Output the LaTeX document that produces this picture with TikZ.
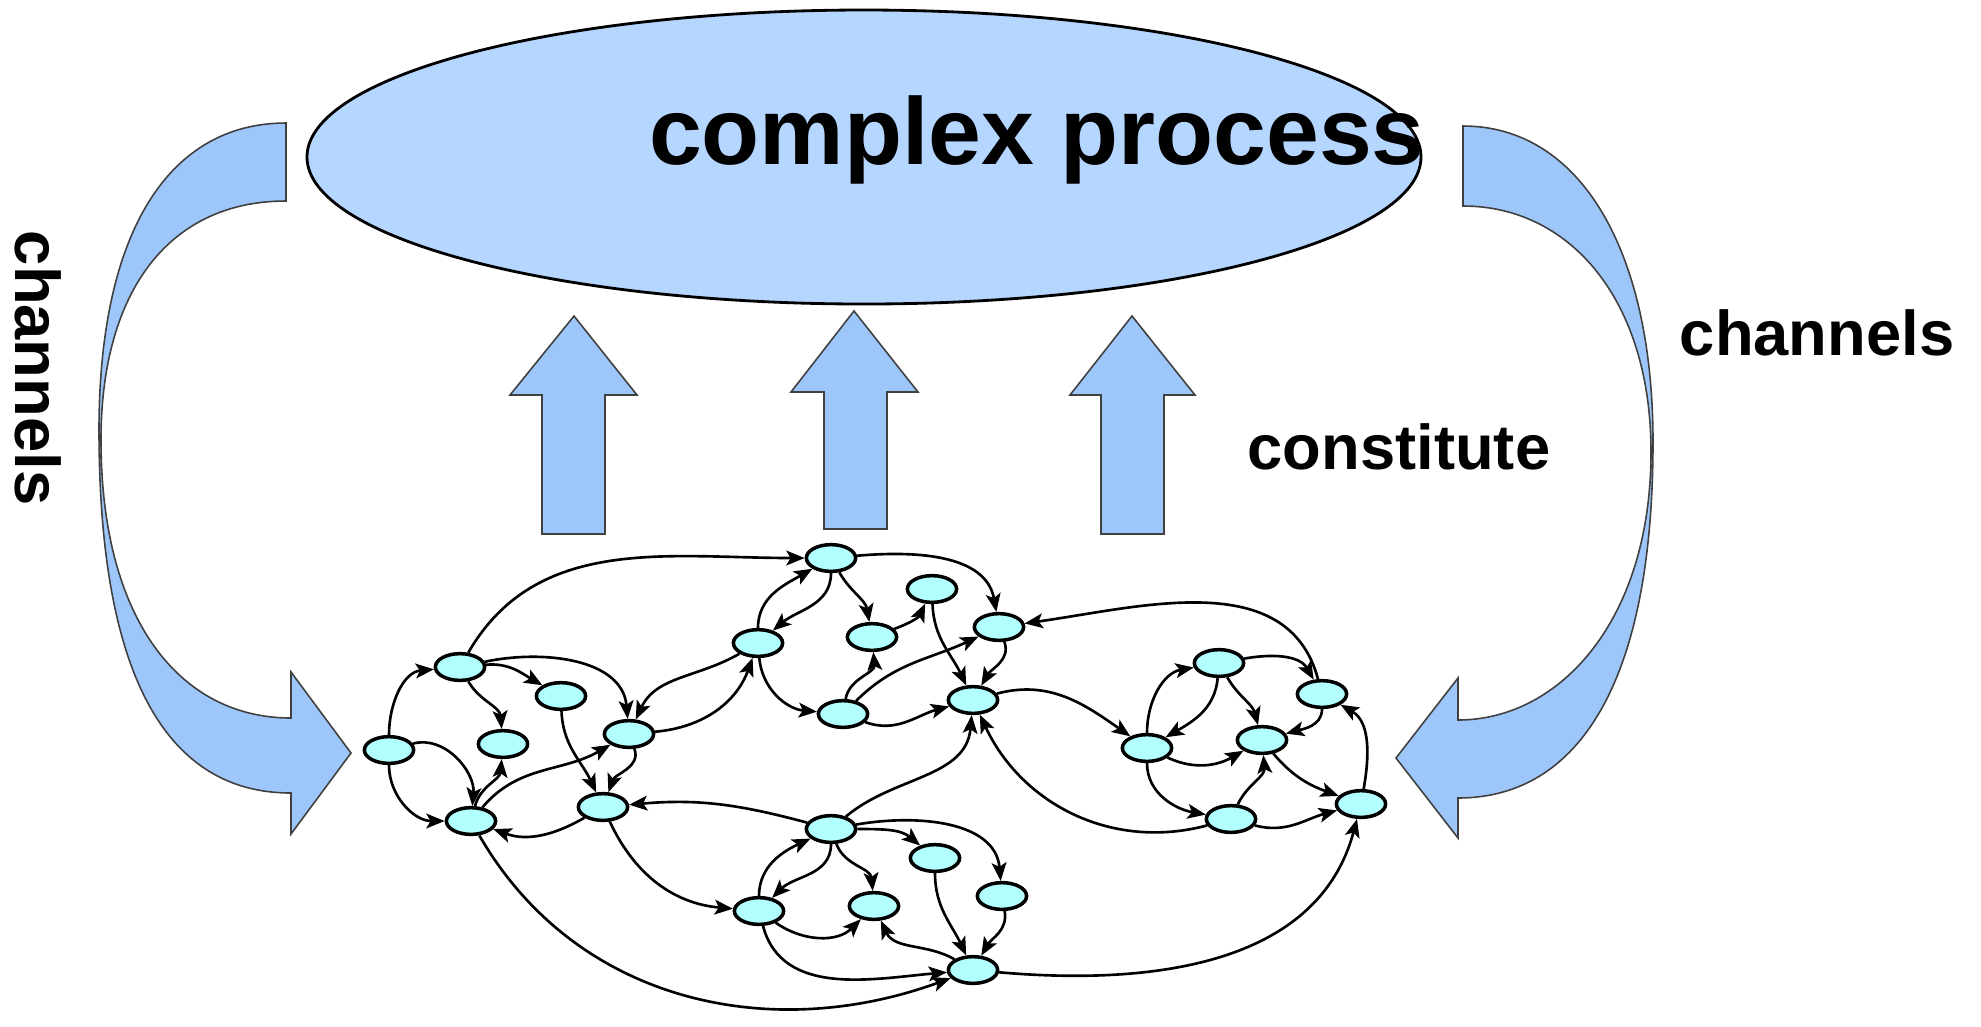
\documentclass[tikz,border=0pt]{standalone}
\usepackage{fontspec}
\setmainfont{Liberation Sans}
\usetikzlibrary{arrows.meta,shapes.geometric}

\definecolor{procblue}{RGB}{181,214,255}
\definecolor{flowblue}{RGB}{157,199,250}
\definecolor{cellcyan}{RGB}{178,255,255}

\tikzset{
  cell/.style={ellipse, draw, line width=1pt, fill=cellcyan, minimum width=14pt, minimum height=7.6pt, inner sep=0pt},
  flow/.style={draw=black!75, line width=0.45pt, fill=flowblue, line join=miter},
  bigtext/.style={font=\bfseries\fontsize{18}{20}\selectfont, inner sep=0pt}
}

\begin{document}
\begin{tikzpicture}[x=0.01cm, y=0.01cm, >={Stealth[length=5.2pt,width=4.2pt,inset=1.2pt]}]
    \useasboundingbox (0,0) rectangle (1981,-1026);

    % the process on top
    \draw[line width=0.8pt, fill=procblue] (864,-157) ellipse (557 and 147);
    \node[anchor=base, inner sep=0pt, font=\bfseries\fontsize{27}{30}\selectfont] (title) at (1037,-164) {complex process};

    % channels, left and right
    \draw[flow] (286,-123) .. controls (170,-123) and (99,-230) .. (99,-430)
        .. controls (99,-700) and (180,-793) .. (291,-793)
        -- (291,-834) -- (351,-753) -- (291,-672) -- (291,-718)
        .. controls (180,-718) and (101,-620) .. (101,-440)
        .. controls (101,-290) and (170,-201) .. (286,-201) -- cycle;
    \draw[flow] (1463,-126) .. controls (1580,-126) and (1653,-250) .. (1653,-442)
        .. controls (1653,-680) and (1580,-798) .. (1458,-798)
        -- (1458,-838) -- (1396,-758) -- (1458,-678) -- (1458,-720)
        .. controls (1560,-720) and (1651,-620) .. (1651,-452)
        .. controls (1651,-300) and (1570,-206) .. (1463,-206) -- cycle;
    \node[bigtext, rotate=-90] (chanl) at (38,-368) {channels};
    \node[bigtext, anchor=base] (chanr) at (1817,-355) {channels};

    % constitute
    \draw[flow] (542,-534) -- (542,-395) -- (510,-395) -- (574,-316) -- (637,-395) -- (605,-395) -- (605,-534) -- cycle;
    \draw[flow] (824,-529) -- (824,-392) -- (791,-392) -- (854,-311) -- (918,-392) -- (887,-392) -- (887,-529) -- cycle;
    \draw[flow] (1101,-534) -- (1101,-395) -- (1070,-395) -- (1132,-316) -- (1195,-395) -- (1164,-395) -- (1164,-534) -- cycle;
    \node[bigtext, anchor=base] (const) at (1399,-469) {constitute};

    % the network
    \node[cell] (l1) at (389,-750) {};
    \node[cell] (l2) at (460,-667) {};
    \node[cell] (l3) at (561,-696) {};
    \node[cell] (l4) at (503,-744) {};
    \node[cell] (l5) at (471,-821) {};
    \node[cell] (l6) at (629,-734) {};
    \node[cell] (l7) at (603,-807) {};

    \node[cell] (t1) at (831,-558) {};
    \node[cell] (t2) at (758,-643) {};
    \node[cell] (t3) at (932,-589) {};
    \node[cell] (t4) at (872,-637) {};
    \node[cell] (t5) at (999,-627) {};
    \node[cell] (t6) at (843,-714) {};
    \node[cell] (t7) at (973,-700) {};

    \node[cell] (r1) at (1219,-663) {};
    \node[cell] (r2) at (1322,-694) {};
    \node[cell] (r3) at (1147,-748) {};
    \node[cell] (r4) at (1262,-740) {};
    \node[cell] (r5) at (1231,-819) {};
    \node[cell] (r6) at (1361,-804) {};

    \node[cell] (b1) at (831,-829) {};
    \node[cell] (b2) at (935,-858) {};
    \node[cell] (b3) at (1002,-896) {};
    \node[cell] (b4) at (759,-911) {};
    \node[cell] (b5) at (874,-906) {};
    \node[cell] (b6) at (973,-970) {};

    \begin{scope}[line width=0.75pt]
    % left group
    \draw[->] (l1) to[out=90,in=185] (l2);
    \draw[->] (l1) to[out=15,in=85] (l5);
    \draw[->] (l1) to[out=-90,in=180] (l5);
    \draw[->] (l2) to[out=-60,in=95] (l4);
    \draw[->] (l2) to[out=5,in=150] (l3);
    \draw[->] (l2) to[out=12,in=95] (l6);
    \draw[->] (l2) to[out=60,in=180] (t1);
    \draw[->] (l3) to[out=-88,in=115] (l7);
    \draw[->] (l5) to[out=75,in=-95] (l4);
    \draw[->] (l5) to[out=50,in=210] (l6);
    \draw[->] (l7) to[out=-150,in=-20] (l5);
    \draw[->] (l6) to[out=-70,in=70] (l7);
    \draw[->] (l6) to[out=5,in=-110] (t2);
    \draw[->] (t2) to[out=210,in=65] (l6);
    \draw[->] (b1) to[out=165,in=5] (l7);
    \draw[->] (l7) to[out=-65,in=175] (b4);
    \draw[->] (l5) to[out=-60,in=200] (b6);
    % top group
    \draw[->] (t2) to[out=90,in=210] (t1);
    \draw[->] (t1) to[out=-90,in=40] (t2);
    \draw[->] (t1) to[out=-60,in=100] (t4);
    \draw[->] (t1) to[out=5,in=100] (t5);
    \draw[->] (t2) to[out=-85,in=175] (t6);
    \draw[->] (t4) to[out=20,in=-115] (t3);
    \draw[->] (t3) to[out=-88,in=115] (t7);
    \draw[->] (t6) to[out=80,in=-85] (t4);
    \draw[->] (t5) to[out=-70,in=60] (t7);
    \draw[->] (t6) to[out=45,in=205] (t5);
    \draw[->] (t6) to[out=-20,in=195] (t7);
    \draw[->] (r2) to[out=105,in=8] (t5);
    \draw[->] (t7) to[out=15,in=145] (r3);
    \draw[->] (b1) to[out=40,in=-95] (t7);
    \draw[->] (r5) to[out=195,in=-65] (t7);
    % right group
    \draw[->] (r3) to[out=90,in=190] (r1);
    \draw[->] (r1) to[out=-95,in=30] (r3);
    \draw[->] (r1) to[out=10,in=120] (r2);
    \draw[->] (r1) to[out=-60,in=105] (r4);
    \draw[->] (r2) to[out=-90,in=15] (r4);
    \draw[->] (r3) to[out=-25,in=210] (r4);
    \draw[->] (r3) to[out=-90,in=170] (r5);
    \draw[->] (r5) to[out=65,in=-85] (r4);
    \draw[->] (r4) to[out=-50,in=160] (r6);
    \draw[->] (r5) to[out=-15,in=195] (r6);
    \draw[->] (r6) to[out=80,in=-30] (r2);
    \draw[->] (b6) to[out=-5,in=-105] (r6);
    % bottom group
    \draw[->] (b1) to[out=-90,in=45] (b4);
    \draw[->] (b4) to[out=90,in=205] (b1);
    \draw[->] (b1) to[out=-70,in=95] (b5);
    \draw[->] (b1) to[out=0,in=140] (b2);
    \draw[->] (b1) to[out=10,in=95] (b3);
    \draw[->] (b2) to[out=-90,in=115] (b6);
    \draw[->] (b3) to[out=-80,in=60] (b6);
    \draw[->] (b4) to[out=-35,in=225] (b5);
    \draw[->] (b6) to[out=150,in=-65] (b5);
    \draw[->] (b4) to[out=-75,in=185] (b6);
    \end{scope}
\end{tikzpicture}
\end{document}
